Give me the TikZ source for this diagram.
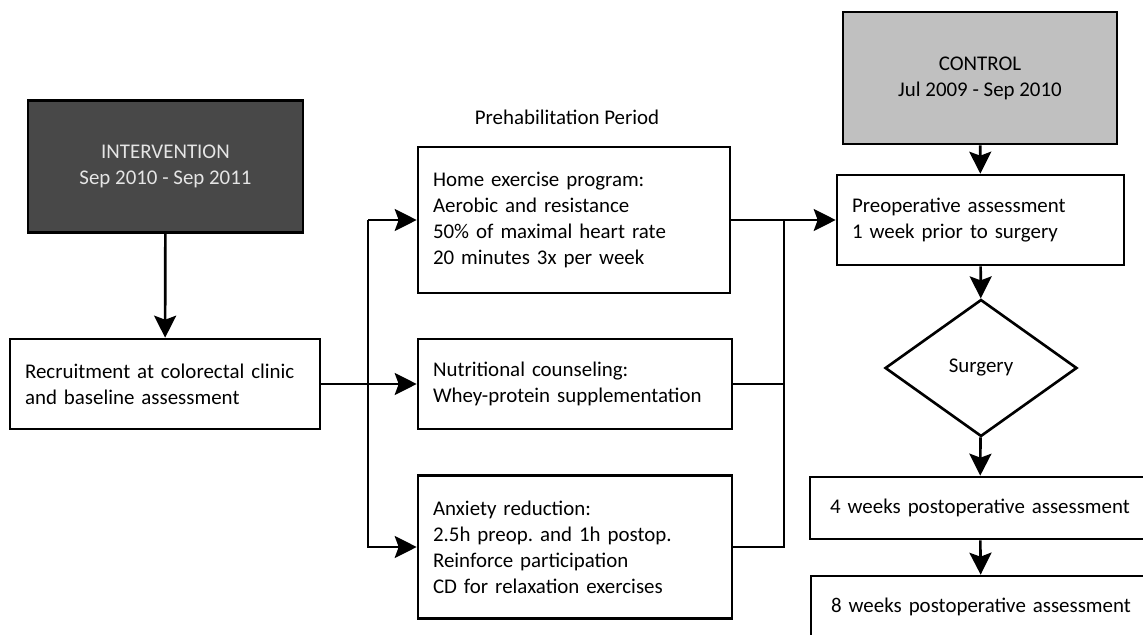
\documentclass[tikz,border=0pt]{standalone}
\usepackage{fontspec}
\setmainfont{Carlito}
\usetikzlibrary{arrows.meta,shapes.geometric}
\definecolor{darkfill}{HTML}{484848}
\definecolor{lightfill}{HTML}{C0C0C0}
\frenchspacing

\begin{document}
\begin{tikzpicture}[
        x=0.02cm, y=-0.02cm,
        box/.style = {draw, line width=1.5pt, fill=white, inner xsep=0.3cm,
                      align=left, text width=#1-0.6cm, minimum width=#1},
        period/.style = {draw, line width=1.5pt, fill=#1, align=center,
                         minimum width=5.5cm, minimum height=2.64cm},
        decision/.style = {diamond, draw, line width=1.5pt, inner sep=0pt,
                           minimum width=3.84cm, minimum height=2.74cm},
        link/.style = {line width=1.5pt},
        >={Stealth[length=0.44cm, width=0.44cm, inset=0.08cm]}
        ]
        \useasboundingbox (0,0) rectangle (1143,635);
        \clip (0,0) rectangle (1143,635);
        \fontsize{11.9}{14.8}\selectfont
        \hyphenpenalty=10000

        \node (interv) at (165.5,166.5) [period=darkfill, text=white!90!black]
              {INTERVENTION\\Sep 2010 - Sep 2011};
        \node (recruit) at (165,384) [box=6.2cm, minimum height=1.8cm]
              {Recruitment at colorectal clinic\\and baseline assessment};

        \node (prehab) at (567,117) {Prehabilitation Period};
        \node (home) at (574,220) [box=6.24cm, minimum height=2.92cm]
              {Home exercise program:\\Aerobic and resistance\\50\% of maximal heart rate\\20 minutes 3x per week};
        \node (nutr) at (575,384) [box=6.28cm, minimum height=1.8cm]
              {Nutritional counseling:\\Whey-protein supplementation};
        \node (anx) at (575,547) [box=6.28cm, minimum height=2.86cm]
              {Anxiety reduction:\\2.5h preop. and 1h postop.\\Reinforce participation\\CD for relaxation exercises};

        \node (control) at (980,78) [period=lightfill, minimum width=5.48cm]
              {CONTROL\\Jul 2009 - Sep 2010};
        \node (preop) at (980.5,220) [box=5.74cm, minimum height=1.8cm]
              {Preoperative assessment\\1 week prior to surgery};
        \node (surg) at (981,368) [decision] {Surgery};
        \node (post4) at (980,508) [box=6.8cm, minimum height=1.24cm, align=center]
              {4 weeks postoperative assessment};
        \node (post8) at (981,607) [box=6.8cm, minimum height=1.24cm, align=center]
              {8 weeks postoperative assessment};

        \coordinate (split) at (368,384);
        \coordinate (merge) at (784,384);

        % left branch
        \draw[->, link] (interv) -- (recruit);
        \draw[->, link] (recruit) -- (nutr);
        \draw[->, link] (split |- home.west) -- (home.west);
        \draw[->, link] (split |- home.west) -- (split |- anx.west) -- (anx.west);

        % right branch
        \draw[->, link] (home.east) -- (preop.west);
        \draw[link] (nutr.east) -- (merge |- nutr.east);
        \draw[link] (anx.east) -- (merge |- anx.east) -- (merge |- home.east);

        % surgical pathway
        \draw[->, link] (control) -- (preop);
        \draw[->, link] (preop) -- (surg);
        \draw[->, link] (surg) -- (post4);
        \draw[->, link] (post4) -- (post8);
    \end{tikzpicture}
\end{document}
